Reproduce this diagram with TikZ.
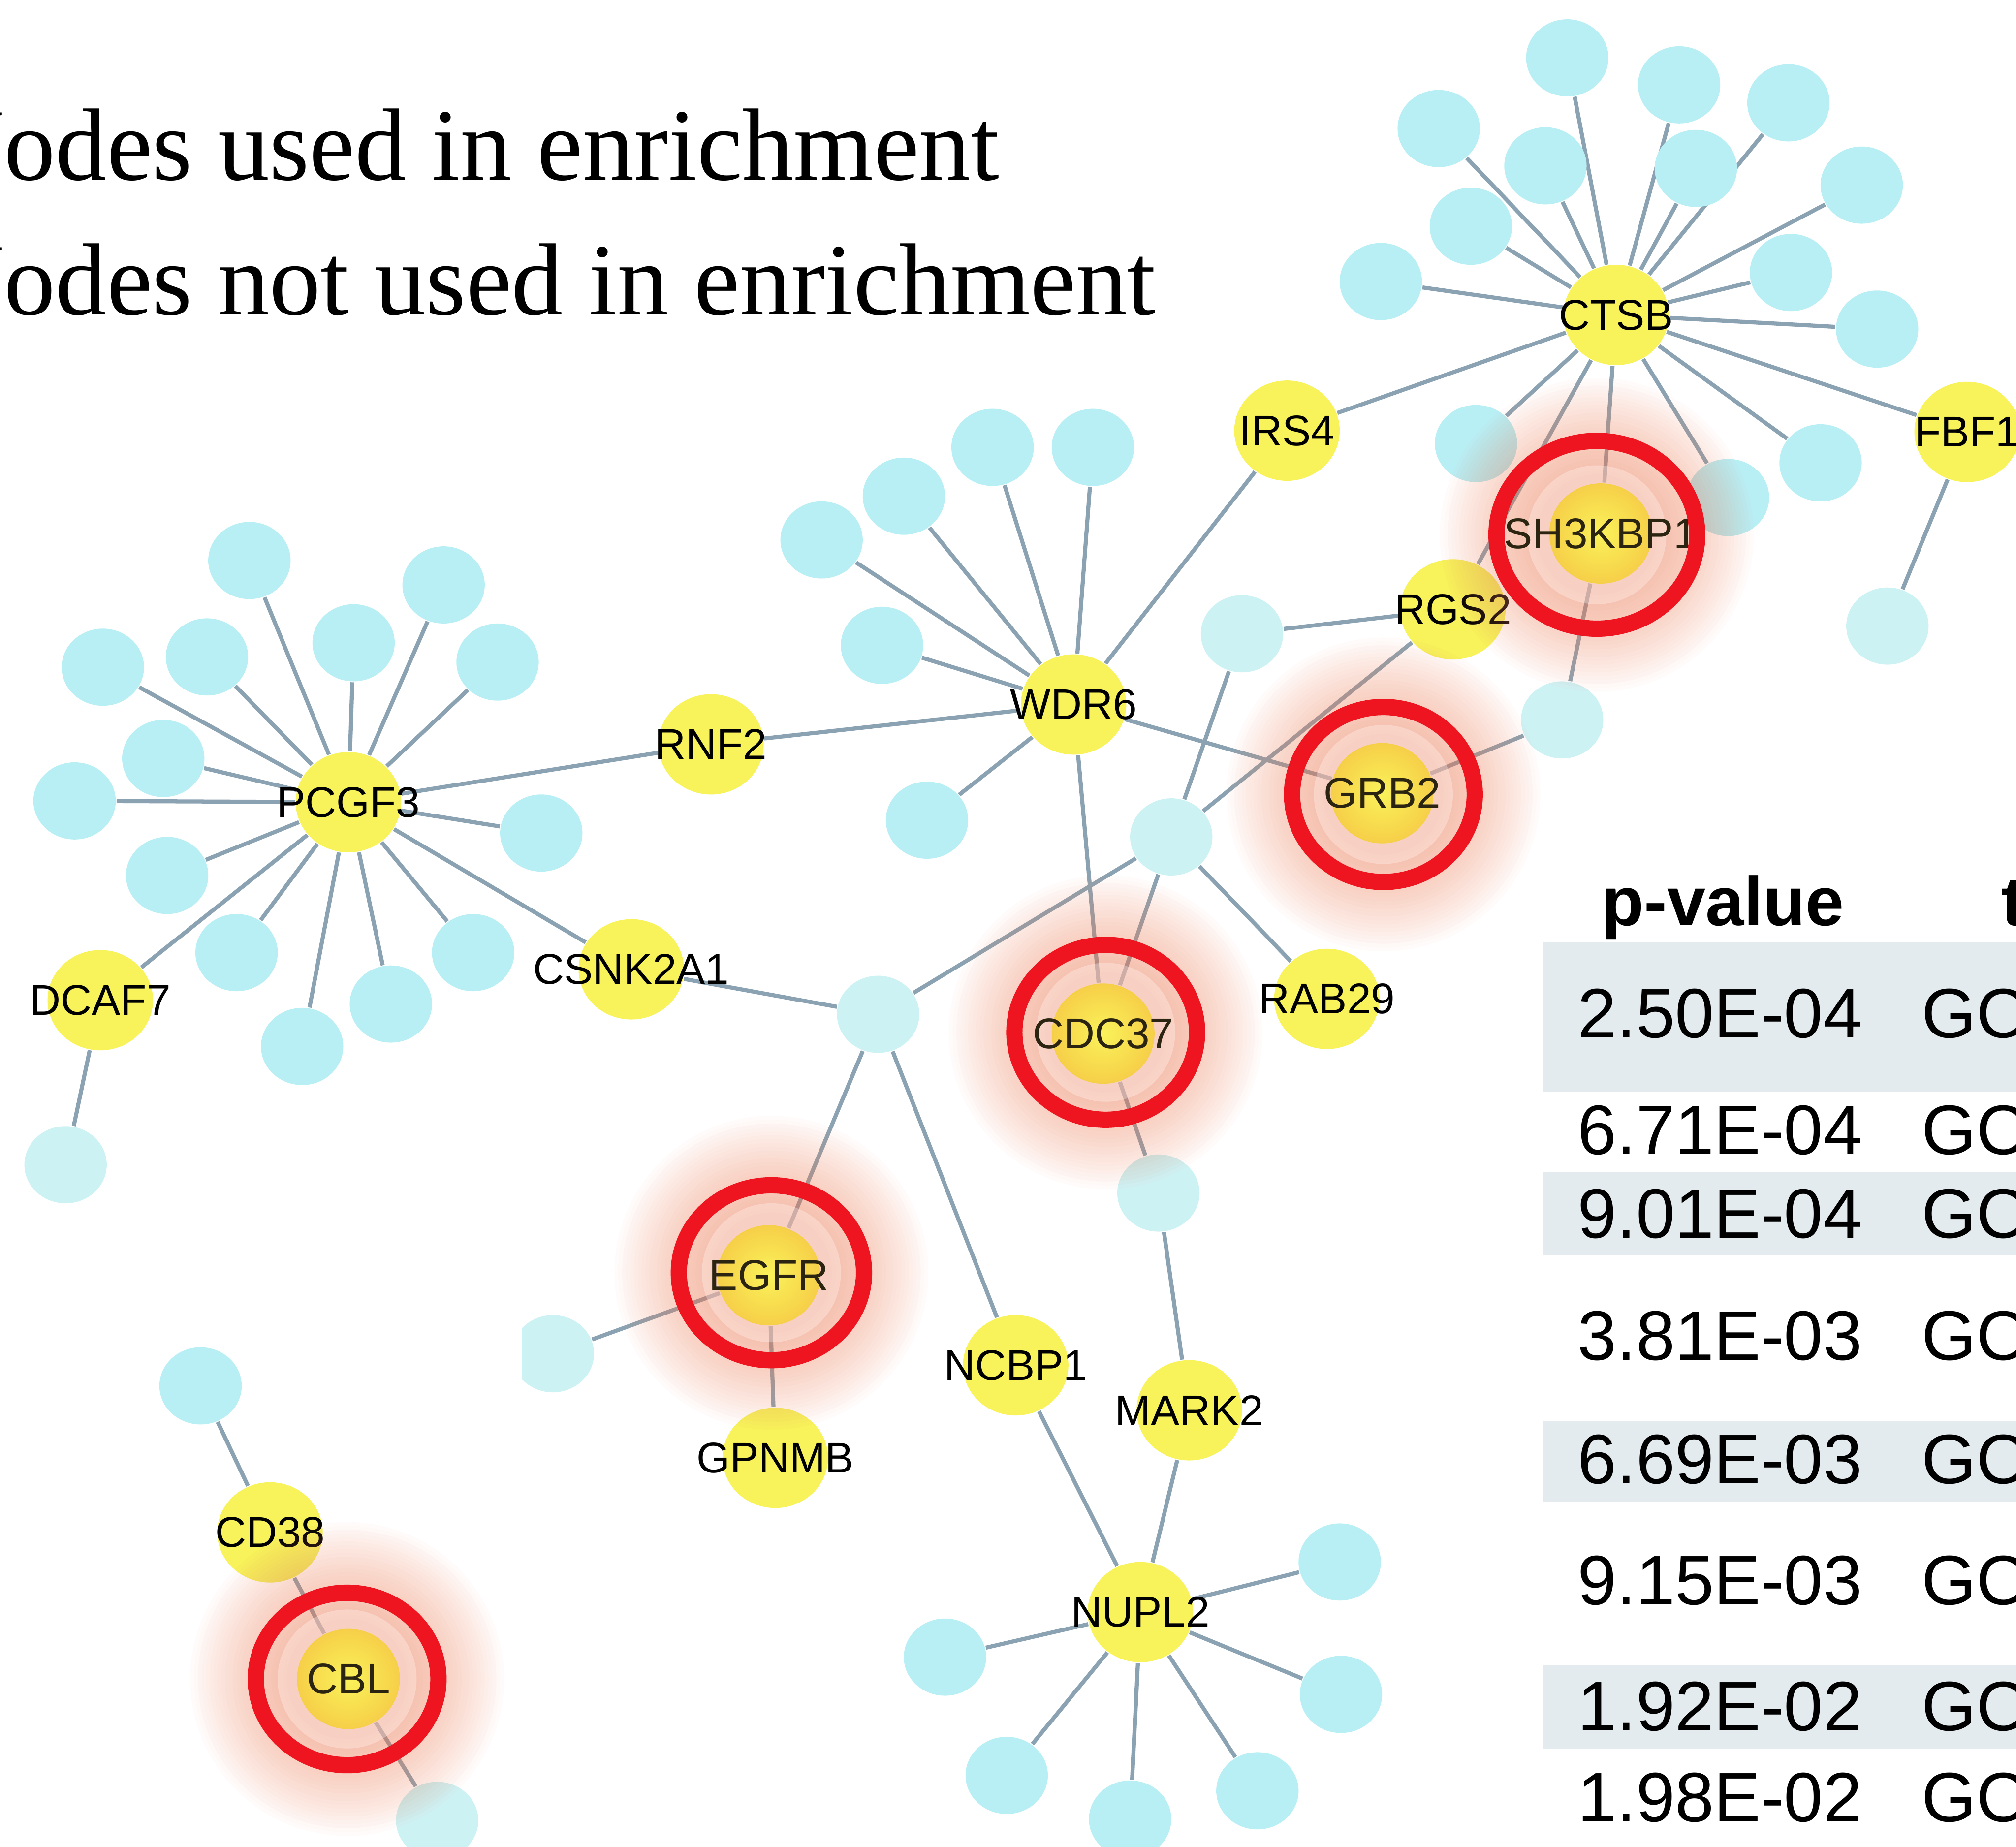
\documentclass[tikz,border=0pt]{standalone}
\usepackage{fontspec}
\setmainfont{Liberation Serif}
\newfontfamily\arialf{Liberation Sans}
\usetikzlibrary{shapes.geometric,backgrounds}
\definecolor{ycol}{HTML}{F8F35A}
\definecolor{bcol}{HTML}{B8EFF5}
\definecolor{pcol}{HTML}{CDF2F4}
\definecolor{ecol}{HTML}{8AA2B2}
\definecolor{ringc}{HTML}{EE1520}
\definecolor{glowc}{HTML}{EE8A68}
\definecolor{bandc}{HTML}{E4EBEE}
\definecolor{hyin}{HTML}{FAF25A}
\definecolor{hyout}{HTML}{F6CF48}
\definecolor{labdark}{HTML}{2A2410}
\newcommand\ynd[3]{\node[ynode,label={[lab]center:#3}] (#1) at (#2) {};}
\newcommand\bnd[2]{\node[bnode] (#1) at (#2) {};}
\newcommand\pnd[2]{\node[pnode] (#1) at (#2) {};}
\newcommand\hglow[1]{%
  \foreach \r in {1.22,1.19,...,0.46}{\fill[glowc,fill opacity=0.03] (#1) circle[radius=\r cm];}
  \fill[white,fill opacity=0.3] (#1) circle[radius=0.54cm];}
\begin{document}
\begin{tikzpicture}[x=0.01cm,y=-0.01cm,
  ynode/.style={ellipse,fill=ycol,inner sep=0,minimum width=0.82cm,minimum height=0.78cm},
  bnode/.style={ellipse,fill=bcol,inner sep=0,minimum width=0.64cm,minimum height=0.60cm},
  pnode/.style={bnode,fill=pcol},
  hnode/.style={ellipse,inner sep=0,minimum width=0.80cm,minimum height=0.78cm,inner color=hyin,outer color=hyout},
  lab/.style={font=\arialf\fontsize{9.5}{10}\selectfont,text=black,inner sep=0},
  hlab/.style={lab,text=labdark},
  edge/.style={draw=ecol,line width=0.9pt},
  ringst/.style={draw=ringc,line width=3.6pt},
  legend/.style={font=\fontsize{22.7}{27}\selectfont,anchor=base west,inner sep=0,text=black},
  tval/.style={font=\arialf\fontsize{15.5}{18}\selectfont,inner sep=0,text=black},
  thead/.style={font=\arialf\bfseries\fontsize{15.3}{18}\selectfont,inner sep=0,text=black}]
\useasboundingbox (0,0) rectangle (1568,1436.4);
\clip (0,0) rectangle (1568,1436.4);

% legend
\node[legend] (leg1) at (-55,140) {Nodes used in enrichment};
\node[legend] (leg2) at (-55,245) {Nodes not used in enrichment};

% table
\fill[bandc] (1200,733) rectangle (1568,849);
\fill[bandc] (1200,912) rectangle (1568,976);
\fill[bandc] (1200,1105) rectangle (1568,1168);
\fill[bandc] (1200,1295) rectangle (1568,1360);
\node[thead,anchor=base] (th1) at (1340,720) {p-value};
\node[thead,anchor=base west] (th2) at (1556,720) {t};
\foreach \v/\yy [count=\i] in {2.50E-04/807,6.71E-04/898,9.01E-04/963,3.81E-03/1058,6.69E-03/1154,9.15E-03/1248,1.92E-02/1346,1.98E-02/1417}{
  \node[tval,anchor=base east] (pv\i) at (1449,\yy) {\v};
  \node[tval,anchor=base west] (go\i) at (1494,\yy) {GC};
}

% blue nodes
\bnd{c1}{1219,45} \bnd{c2}{1306,66} \bnd{c3}{1391,80} \bnd{c4}{1119,100}
\bnd{c5}{1202,129} \bnd{c6}{1319,131} \bnd{c7}{1448,144} \bnd{c8}{1144,176}
\bnd{c9}{1393,212} \bnd{c10}{1074,219} \bnd{c11}{1460,256} \bnd{c12}{1148,345}
\bnd{c13}{1416,360} \bnd{c14}{1344,387}
\pnd{f1}{1468,487}
\pnd{u1}{966,493} \pnd{u2}{1215,560} \pnd{u3}{911,651} \pnd{u4}{683,789}
\pnd{u5}{901,928} \pnd{u7}{51,906} \pnd{d2}{340,1416}
\begin{scope}
  \clip (406,990) rectangle (480,1120);
  \pnd{u6}{430,1053}
\end{scope}
\bnd{w1}{639,420} \bnd{w2}{703,386} \bnd{w3}{772,348} \bnd{w4}{850,348}
\bnd{w5}{686,502} \bnd{w6}{721,638}
\bnd{p1}{194,436} \bnd{p2}{345,455} \bnd{p3}{80,519} \bnd{p4}{161,511}
\bnd{p5}{275,500} \bnd{p6}{387,515} \bnd{p7}{127,590} \bnd{p8}{58,623}
\bnd{p9}{421,648} \bnd{p10}{130,681} \bnd{p11}{184,741} \bnd{p12}{368,741}
\bnd{p13}{304,781} \bnd{p14}{235,814}
\bnd{n1}{1042,1215} \bnd{n2}{735,1289} \bnd{n3}{1043,1318} \bnd{n4}{783,1381}
\bnd{n5}{879,1415} \bnd{n6}{978,1393}
\bnd{d1}{156,1078}

% yellow nodes
\ynd{CTSB}{1257,245}{CTSB}
\ynd{IRS4}{1001,335}{IRS4}
\ynd{FBF1}{1530,336}{FBF1}
\ynd{RGS2}{1130,474}{RGS2}
\ynd{WDR6}{835,548}{WDR6}
\ynd{RNF2}{553,579}{RNF2}
\ynd{PCGF3}{271,624}{PCGF3}
\ynd{CSNK2A1}{491,754}{CSNK2A1}
\ynd{DCAF7}{78,778}{DCAF7}
\ynd{RAB29}{1032,777}{RAB29}
\ynd{NCBP1}{790,1062}{NCBP1}
\ynd{MARK2}{925,1097}{MARK2}
\ynd{GPNMB}{603,1134}{GPNMB}
\ynd{CD38}{210,1192}{CD38}
\ynd{NUPL2}{887,1254}{NUPL2}

% highlight glows
\coordinate (gSH) at (1242,416);
\coordinate (gGR) at (1076,618);
\coordinate (gCD) at (860,803);
\coordinate (gEG) at (600,990);
\coordinate (gCB) at (270,1306);
\hglow{gSH} \hglow{gGR} \hglow{gCD} \hglow{gEG} \hglow{gCB}

% highlighted nodes
\node[hnode,label={[hlab]center:SH3KBP1}] (SH3KBP1) at (1245,415) {};
\node[hnode,label={[hlab]center:GRB2}] (GRB2) at (1075,617) {};
\node[hnode,label={[hlab]center:CDC37}] (CDC37) at (858,804) {};
\node[hnode,label={[hlab]center:EGFR}] (EGFR) at (598,992) {};
\node[hnode,label={[hlab]center:CBL}] (CBL) at (271,1306) {};

% rings
\draw[ringst] (gSH) ellipse[x radius=0.78cm,y radius=0.73cm];
\draw[ringst] (gGR) ellipse[x radius=0.71cm,y radius=0.68cm];
\draw[ringst] (gCD) ellipse[x radius=0.71cm,y radius=0.68cm];
\draw[ringst] (gEG) ellipse[x radius=0.72cm,y radius=0.68cm];
\draw[ringst] (gCB) ellipse[x radius=0.71cm,y radius=0.67cm];

% edges
\begin{pgfonlayer}{background}
\foreach \t in {c1,c2,c3,c4,c5,c6,c7,c8,c9,c10,c11,c12,c13,c14,IRS4,FBF1,SH3KBP1,RGS2}
  \draw[edge] (CTSB) -- (\t);
\draw[edge] (FBF1) -- (f1);
\draw[edge] (IRS4) -- (WDR6);
\draw[edge] (SH3KBP1) -- (u2);
\draw[edge] (GRB2) -- (u2);
\draw[edge] (RGS2) -- (u1);
\draw[edge] (RGS2) -- (u3);
\draw[edge] (u1) -- (u3);
\foreach \t in {w1,w2,w3,w4,w5,w6,RNF2,GRB2,CDC37}
  \draw[edge] (WDR6) -- (\t);
\foreach \t in {u4,CDC37,RAB29}
  \draw[edge] (u3) -- (\t);
\foreach \t in {CSNK2A1,EGFR,NCBP1}
  \draw[edge] (u4) -- (\t);
\draw[edge] (RNF2) -- (PCGF3);
\draw[edge] (CSNK2A1) -- (PCGF3);
\foreach \t in {p1,p2,p3,p4,p5,p6,p7,p8,p9,p10,p11,p12,p13,p14,DCAF7}
  \draw[edge] (PCGF3) -- (\t);
\draw[edge] (DCAF7) -- (u7);
\draw[edge] (CDC37) -- (u5);
\draw[edge] (u5) -- (MARK2);
\draw[edge] (MARK2) -- (NUPL2);
\draw[edge] (NCBP1) -- (NUPL2);
\foreach \t in {n1,n2,n3,n4,n5,n6}
  \draw[edge] (NUPL2) -- (\t);
\draw[edge] (EGFR) -- (u6);
\draw[edge] (EGFR) -- (GPNMB);
\draw[edge] (CD38) -- (d1);
\draw[edge] (CD38) -- (CBL);
\draw[edge] (CBL) -- (d2);
\end{pgfonlayer}
\end{tikzpicture}
\end{document}
